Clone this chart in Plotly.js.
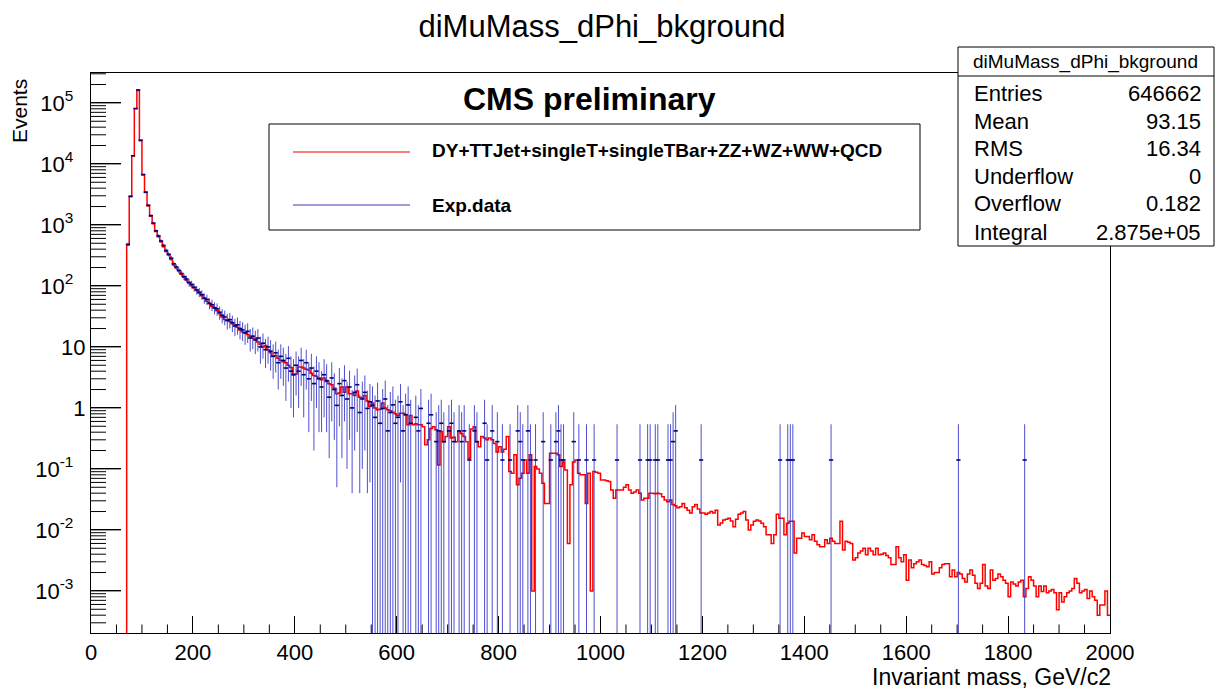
<!DOCTYPE html>
<html>
<head>
<meta charset="utf-8">
<script src="https://cdn.plot.ly/plotly-3.0.1.min.js"></script>
<style>
html,body{margin:0;padding:0;background:#fff;}
#chart{width:1225px;height:691px;}
</style>
</head>
<body>
<div id="chart"></div>
<script>
// ---------------- DATA ----------------
const BIN_WIDTH = 5;   // GeV per bin, 400 bins from 0 to 2000 GeV
const X_MIN = 0, X_MAX = 2000;

// Simulated background (red histogram), content per 5 GeV bin
const mc_0000_0250 = [0,0,0,0,0,0,0,0,0,0,0,0,0,0,470,2900,13500,80000,160000,24000,
  6600,3400,2050,1380,1040,780,640,530,440,365,320,270,220,196,175,155,138,124,112,101,
  92,84,76,69,62,56,51,46,43,39];
const mc_0250_0500 = [35,31,28,28,26,24,23,21,19,17.5,17,16,15,14,13.5,12,11,10,10.5,9,
  8,7,7.2,6.5,6,5.7,5.5,5,4.6,3.5,3.6,4.7,4.7,4.5,4.3,4.2,3.7,3.4,3.3,3.1,
  2.9,3.1,2.7,2.5,2.4,2.1,1.7,1.75,2.2,1.8];
const mc_0500_0750 = [2.2,1.7,1.7,1.6,1.9,1.5,1.45,1.6,1.3,1.05,1.2,1.0,0.93,0.95,1.2,1.0,0.93,0.9,0.85,0.8,
  0.75,0.82,0.82,0.78,0.53,0.75,0.53,0.55,0.53,0.53,0.49,0.25,0.30,0.46,0.49,0.44,0.116,0.41,0.28,0.34,
  0.49,0.32,0.33,0.28,0.41,0.38,0.34,0.28,0.15,0.45];
const mc_0750_1000 = [0.49,0.28,0.23,0.34,0.32,0.30,0.32,0.30,0.26,0.19,0.23,0.19,0.21,0.34,0.091,0.085,0.17,0.055,0.07,0.085,
  0.14,0.085,0.17,0.001,0.109,0.1,0.085,0.058,0.027,0.027,0.18,0.18,0.18,0.17,0.109,0.13,0.096,0.006,0.055,0.13,
  0.14,0.085,0.08,0.080,0.027,0.085,0.001,0.091,0.088,0.085];
const mc_1000_1250 = [0.066,0.066,0.064,0.062,0.045,0.033,0.045,0.045,0.045,0.05,0.055,0.045,0.040,0.042,0.045,0.040,0.031,0.033,0.033,0.040,
  0.040,0.039,0.040,0.039,0.035,0.031,0.029,0.031,0.026,0.025,0.023,0.024,0.027,0.023,0.021,0.019,0.024,0.026,0.022,0.019,
  0.019,0.018,0.019,0.020,0.019,0.021,0.012,0.013,0.0146,0.015];
const mc_1250_1500 = [0.0156,0.014,0.0113,0.015,0.018,0.019,0.020,0.0146,0.010,0.012,0.0138,0.0146,0.014,0.0129,0.0113,0.0083,0.0083,0.006,0.0083,0.018,
  0.0156,0.0156,0.0083,0.0129,0.0138,0.0138,0.0042,0.0073,0.0073,0.0089,0.0078,0.0078,0.0069,0.0083,0.0065,0.0057,0.0053,0.0053,0.0069,0.006,
  0.0073,0.0065,0.006,0.006,0.0138,0.0047,0.0065,0.0063,0.006,0.0032];
const mc_1500_1750 = [0.0035,0.0042,0.0045,0.005,0.0039,0.005,0.0045,0.0039,0.005,0.0039,0.004,0.0042,0.0038,0.0035,0.0027,0.0027,0.0053,0.0035,0.003,0.0039,
  0.0015,0.0032,0.0024,0.0028,0.003,0.0032,0.0027,0.0026,0.0025,0.003,0.0019,0.002,0.002,0.0024,0.0027,0.0028,0.0028,0.0017,0.0022,0.0017,
  0.002,0.0019,0.0016,0.0014,0.0019,0.0022,0.0018,0.00134,0.0011,0.00134];
const mc_1750_2000 = [0.0027,0.0012,0.0011,0.0022,0.0015,0.0016,0.0019,0.0017,0.0015,0.00134,0.0008,0.0014,0.0013,0.0012,0.0014,0.0015,0.0008,0.0011,0.0017,0.0015,
  0.0012,0.0008,0.0012,0.00098,0.0012,0.00093,0.001,0.00105,0.00093,0.00049,0.00093,0.00066,0.0008,0.00093,0.001,0.0011,0.0016,0.00134,0.00093,0.001,
  0.00105,0.00075,0.001,0.0008,0.0007,0.0004,0.00059,0.00059,0.001,0.0004];

// Experimental data: continuous part, bins 14..109 (70-550 GeV)
const DATA_FIRST_BIN = 14;
const data_0070_0550 = [480,2950,13600,81000,163000,24500,
  6700,3450,2100,1420,1070,800,660,545,460,380,
  330,285,230,205,180,160,142,130,114,106,
  95,86,79,72,63,60,52,49,44,42,
  37,33,31,27,28,25,22,23,20,19,
  17,18,14,15,13,14,10,11.5,9,10,
  8.5,7,8,5.5,7,6,4.5,6.5,4,3.5,
  5,4,6,3.5,5.5,3,4.5,2.5,4,3,
  2.2,3.5,2.8,1.5,3.1,2,1.1,2.5,1.6,2.8,
  1.4,2.2,1.0,1.8,2.4,0.84,1.4,1.8,0.98,1.26];
const dataErr_0070_0550 = [33,81,175,427,605,235,
  123,88,69,57,49,42,39,35,32,29,
  27,25,23,21,20,19,18,17,16,15.5,
  14.6,13.9,13.3,12.7,11.9,11.6,10.8,10.5,9.9,9.7,
  9.1,8.6,8.4,7.8,7.9,7.5,7.0,7.2,6.7,6.5,
  6.2,6.4,5.6,5.8,5.4,5.6,4.7,5.1,4.5,4.7,
  4.4,4.0,4.2,3.5,4.0,3.7,3.2,3.8,3.0,2.8,
  3.4,3.0,3.7,2.8,3.5,2.6,3.2,2.3,3.0,2.6,
  1.8,2.8,2.4,1.35,2.5,1.7,1.05,2.0,1.45,2.2,
  1.3,1.9,0.96,1.6,2.0,0.8,1.3,1.6,0.94,1.2];

// Experimental data: sparse high-mass part (bin centres in GeV)
const dataTailMass = [552.5,557.5,562.5,567.5,572.5,577.5,582.5,587.5,592.5,597.5,
  602.5,607.5,612.5,617.5,622.5,627.5,637.5,642.5,647.5,662.5,
  667.5,677.5,682.5,687.5,692.5,702.5,707.5,712.5,722.5,727.5,
  732.5,742.5,752.5,757.5,772.5,777.5,787.5,797.5,807.5,822.5,
  837.5,842.5,847.5,857.5,862.5,872.5,887.5,902.5,912.5,917.5,
  922.5,927.5,947.5,957.5,972.5,987.5,1032.5,1077.5,1092.5,1097.5,
  1107.5,1112.5,1132.5,1137.5,1142.5,1147.5,1197.5,1352.5,1367.5,1372.5,
  1377.5,1452.5,1702.5,1832.5];
const dataTailVal = [1.1,0.7,1.3,0.56,0.98,1.4,0.42,0.84,1.12,0.56,
  0.7,1.26,0.42,0.77,1.12,0.56,0.7,0.42,0.98,0.56,
  0.77,0.28,0.42,0.56,0.28,0.42,0.56,0.28,0.42,0.28,
  0.42,0.14,0.42,0.28,0.56,0.14,0.42,0.28,0.14,0.14,
  0.42,0.28,0.14,0.42,0.14,0.14,0.28,0.14,0.28,0.42,
  0.14,0.14,0.28,0.14,0.14,0.14,0.14,0.14,0.14,0.14,
  0.14,0.14,0.14,0.14,0.28,0.42,0.14,0.14,0.14,0.14,
  0.14,0.14,0.14,0.14];
const dataTailErr = [1.15,0.9,1.3,0.8,1.06,1.4,0.69,0.98,1.13,0.8,
  0.89,1.2,0.69,0.94,1.13,0.8,0.89,0.69,1.06,0.8,
  0.94,0.57,0.69,0.8,0.57,0.69,0.8,0.57,0.69,0.57,
  0.69,0.4,0.69,0.57,0.8,0.4,0.69,0.57,0.4,0.4,
  0.69,0.57,0.4,0.69,0.4,0.4,0.57,0.4,0.57,0.69,
  0.4,0.4,0.57,0.4,0.4,0.4,0.4,0.4,0.4,0.4,
  0.4,0.4,0.4,0.4,0.57,0.69,0.4,0.4,0.4,0.4,
  0.4,0.4,0.4,0.4];

// Text content
const titleText = 'diMuMass_dPhi_bkground';
const legendLabels = ['DY+TTJet+singleT+singleTBar+ZZ+WZ+WW+QCD', 'Exp.data'];
const statNames = ['Entries','Mean','RMS','Underflow','Overflow','Integral'];
const statValues = ['646662','93.15','16.34','0','0.182','2.875e+05'];
const yTickVals = [1e-3,1e-2,1e-1,1,10,1e2,1e3,1e4,1e5];
const yTickText = ['10<sup>-3</sup>&nbsp;&nbsp;','10<sup>-2</sup>&nbsp;&nbsp;','10<sup>-1</sup>&nbsp;&nbsp;','1','10',
  '10<sup>2</sup>&nbsp;&nbsp;','10<sup>3</sup>&nbsp;&nbsp;','10<sup>4</sup>&nbsp;&nbsp;','10<sup>5</sup>&nbsp;&nbsp;'];

// ---------------- BUILD ----------------
const mcAll = [].concat(mc_0000_0250, mc_0250_0500, mc_0500_0750, mc_0750_1000,
                        mc_1000_1250, mc_1250_1500, mc_1500_1750, mc_1750_2000);
const FLOOR = 1e-9; // empty bins drawn below the axis floor
const mcX = [], mcY = [];
const firstNZ = mcAll.findIndex(v => v > 0);
mcX.push(firstNZ * BIN_WIDTH); mcY.push(FLOOR);
for (let i = firstNZ; i < mcAll.length; i++) {
  mcX.push(i * BIN_WIDTH);
  mcY.push(mcAll[i] > 0 ? mcAll[i] : FLOOR);
}
mcX.push(X_MAX); mcY.push(mcAll[mcAll.length - 1]);

const dX = [], dY = [], dE = [];
data_0070_0550.forEach((v, k) => {
  dX.push((DATA_FIRST_BIN + k) * BIN_WIDTH + BIN_WIDTH / 2);
  dY.push(v); dE.push(dataErr_0070_0550[k]);
});
dataTailMass.forEach((m, k) => { dX.push(m); dY.push(dataTailVal[k]); dE.push(dataTailErr[k]); });

// ---------------- LAYOUT HELPERS (pixel -> paper) ----------------
const W = 1225, H = 691, PL = 91, PR = 1110, PT = 73, PB = 633;
const px = x => (x - PL) / (PR - PL);
const py = y => (PB - y) / (PB - PT);
const FONT = 'Liberation Sans, Arial, Helvetica, sans-serif';
const Y_RANGE = [-3.69, 5.49];

const traces = [
  {
    type: 'scatter', mode: 'lines', name: legendLabels[0],
    x: mcX, y: mcY,
    line: {shape: 'hv', color: '#ff0000', width: 1.5},
    hoverinfo: 'skip', cliponaxis: true
  },
  {
    type: 'scatter', mode: 'markers', name: legendLabels[1],
    x: dX, y: dY,
    marker: {symbol: 'line-ew', size: 3, color: '#00007a', line: {color: '#00007a', width: 1.6}},
    error_y: {type: 'data', array: dE, visible: true, color: 'rgba(35,35,195,0.8)', thickness: 1, width: 0},
    hoverinfo: 'skip'
  }
];

const shapes = [];
const annotations = [];

// ROOT-style inside tick marks on the log y axis (decoration), placed in paper units
// from the axis' own log range so they line up with the library's scale.
const Y_TICK_MAJOR = 30 / (PR - PL), Y_TICK_MINOR = 15 / (PR - PL);
const X_TICK_MINOR = 8.5 / (PB - PT);
const logToPaper = lv => (lv - Y_RANGE[0]) / (Y_RANGE[1] - Y_RANGE[0]);
for (let e = -4; e <= 5; e++) {
  for (let d = 1; d <= 9; d++) {
    const lv = Math.log10(d * Math.pow(10, e));
    if (lv < Y_RANGE[0] || lv > Y_RANGE[1]) continue;
    const yp = logToPaper(lv);
    shapes.push({type:'line', xref:'paper', yref:'paper', x0:0, x1:(d === 1 ? Y_TICK_MAJOR : Y_TICK_MINOR),
      y0:yp, y1:yp, line:{color:'#000', width:1}, layer:'above'});
  }
}
for (let v = 50; v < X_MAX; v += 50) {
  if (v % 200 === 0) continue;
  shapes.push({type:'line', xref:'x', yref:'paper', x0:v, x1:v, y0:0, y1:X_TICK_MINOR, line:{color:'#000', width:1}});
}

// Legend box
shapes.push({type:'rect', xref:'paper', yref:'paper', x0:px(269), x1:px(920), y0:py(124), y1:py(230),
  line:{color:'#000', width:1}, fillcolor:'rgba(255,255,255,0)'});
shapes.push({type:'line', xref:'paper', yref:'paper', x0:px(293), x1:px(410), y0:py(152), y1:py(152),
  line:{color:'#ff0000', width:1.2}});
shapes.push({type:'line', xref:'paper', yref:'paper', x0:px(293), x1:px(410), y0:py(205), y1:py(205),
  line:{color:'#3a3ab8', width:1.2}});
annotations.push({xref:'paper', yref:'paper', x:px(430), y:py(151), xanchor:'left', yanchor:'middle',
  text:'<b>' + legendLabels[0] + '</b>', showarrow:false, font:{family:FONT, size:19, color:'#000'}});
annotations.push({xref:'paper', yref:'paper', x:px(430), y:py(205), xanchor:'left', yanchor:'middle',
  text:'<b>' + legendLabels[1] + '</b>', showarrow:false, font:{family:FONT, size:19, color:'#000'}});

// CMS preliminary
annotations.push({xref:'paper', yref:'paper', x:px(589), y:py(99), xanchor:'center', yanchor:'middle',
  text:'<b>CMS preliminary</b>', showarrow:false, font:{family:FONT, size:32, color:'#000'}});

// Stats box
shapes.push({type:'rect', xref:'paper', yref:'paper', x0:px(958), x1:px(1214), y0:py(47), y1:py(246),
  line:{color:'#000', width:1}, fillcolor:'#ffffff', layer:'above'});
shapes.push({type:'line', xref:'paper', yref:'paper', x0:px(958), x1:px(1214), y0:py(76), y1:py(76),
  line:{color:'#000', width:1}});
annotations.push({xref:'paper', yref:'paper', x:px(1085), y:py(62), xanchor:'center', yanchor:'middle',
  text:titleText, showarrow:false, font:{family:FONT, size:19, color:'#000'}});
const rowY = [93, 121, 148, 176, 204, 232];
statNames.forEach((n, i) => {
  annotations.push({xref:'paper', yref:'paper', x:px(972), y:py(rowY[i]), xanchor:'left', yanchor:'middle',
    text:n, showarrow:false, font:{family:FONT, size:22, color:'#000'}});
  annotations.push({xref:'paper', yref:'paper', x:px(1203), y:py(rowY[i]), xanchor:'right', yanchor:'middle',
    text:statValues[i], showarrow:false, font:{family:FONT, size:22, color:'#000'}});
});

// Axis titles (ROOT-style, aligned to the axis ends)
annotations.push({xref:'paper', yref:'paper', x:px(1113), y:py(677), xanchor:'right', yanchor:'middle',
  text:'Invariant mass, GeV/c2', showarrow:false, font:{family:FONT, size:23, color:'#000'}});
annotations.push({xref:'paper', yref:'paper', x:px(20), y:py(111), xanchor:'center', yanchor:'middle', textangle:-90,
  text:'Events', showarrow:false, font:{family:FONT, size:21, color:'#000'}});

const layout = {
  width: W, height: H,
  margin: {l: PL, r: W - PR, t: PT, b: H - PB, pad: 0},
  paper_bgcolor: '#fff', plot_bgcolor: '#fff',
  showlegend: false,
  font: {family: FONT, color: '#000'},
  title: {text: titleText, x: 602 / W, xref: 'container', xanchor: 'center',
          y: 1 - 26 / H, yref: 'container', yanchor: 'middle',
          font: {family: FONT, size: 31, color: '#000'}},
  xaxis: {
    range: [X_MIN, X_MAX], tickmode: 'linear', tick0: 0, dtick: 200,
    ticks: 'inside', ticklen: 17, tickwidth: 1, tickcolor: '#000',
    showline: true, linecolor: '#000', linewidth: 1, mirror: true,
    showgrid: false, zeroline: false,
    tickfont: {family: FONT, size: 22, color: '#000'}
  },
  yaxis: {
    type: 'log', range: Y_RANGE,
    tickmode: 'array', tickvals: yTickVals, ticktext: yTickText,
    ticks: 'inside', ticklen: 30, tickwidth: 1, tickcolor: '#000',
    showline: true, linecolor: '#000', linewidth: 1, mirror: true,
    showgrid: false, zeroline: false,
    tickfont: {family: FONT, size: 22, color: '#000'}
  },
  shapes: shapes,
  annotations: annotations
};

Plotly.newPlot('chart', traces, layout, {staticPlot: true, displayModeBar: false});
</script>
</body>
</html>
